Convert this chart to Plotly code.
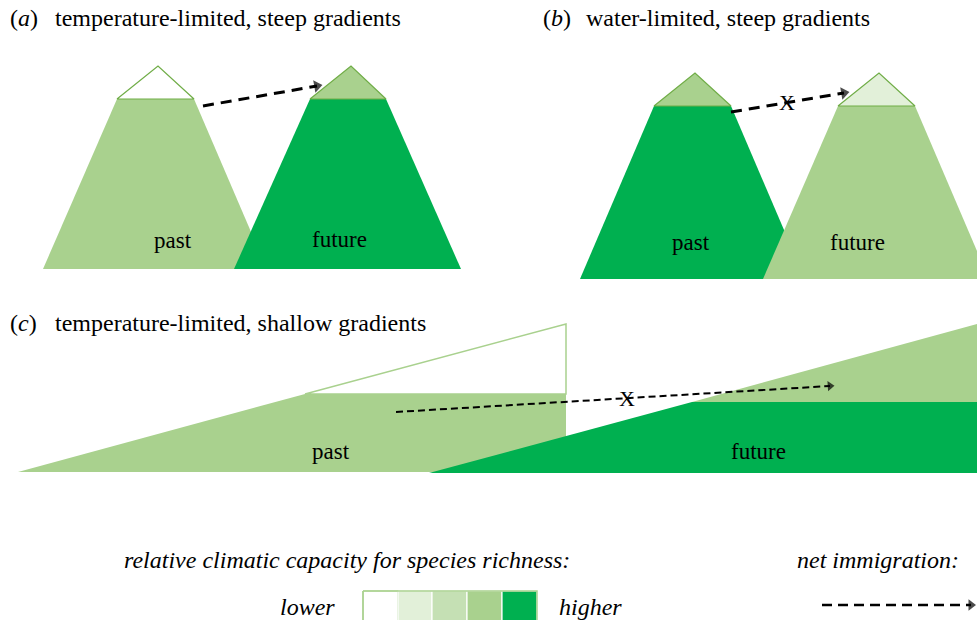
import plotly.graph_objects as go

W, H = 977, 620

# colour levels (relative climatic capacity)
LEVELS = ["#FFFFFF", "#E2F0D9", "#C5E0B4", "#A9D18E", "#00B050"]
OUTLINE = "#70AD47"

# ---- panel (a): polygon vertices (figure units, y downwards)
A_PAST_BODY_X = [43, 117, 194, 267]
A_PAST_BODY_Y = [269, 99, 99, 269]
A_PAST_TOP_X = [117, 158, 194]
A_PAST_TOP_Y = [99, 66, 99]
A_FUT_BODY_X = [234, 310, 386, 461]
A_FUT_BODY_Y = [269, 99, 99, 269]
A_FUT_TOP_X = [310, 351, 386]
A_FUT_TOP_Y = [99, 66, 99]
A_ARROW_X = [203, 317]
A_ARROW_Y = [106, 86]

# ---- panel (b)
B_PAST_BODY_X = [580, 654, 731, 805]
B_PAST_BODY_Y = [279, 106, 106, 279]
B_PAST_TOP_X = [654, 695, 731]
B_PAST_TOP_Y = [106, 73, 106]
B_FUT_BODY_X = [763, 838, 915, 989]
B_FUT_BODY_Y = [279, 106, 106, 279]
B_FUT_TOP_X = [838, 879, 915]
B_FUT_TOP_Y = [106, 73, 106]
B_ARROW_X = [731, 844]
B_ARROW_Y = [112, 93]

# ---- panel (c)
C_PAST_BODY_X = [18, 305, 566, 566]
C_PAST_BODY_Y = [472, 394, 394, 472]
C_PAST_TOP_X = [305, 566, 566]
C_PAST_TOP_Y = [394, 324, 394]
C_FUT_BODY_X = [429, 692, 977, 977]
C_FUT_BODY_Y = [473, 402, 402, 473]
C_FUT_TOP_X = [692, 977, 977]
C_FUT_TOP_Y = [402, 324, 402]
C_ARROW_X = [396, 830]
C_ARROW_Y = [412, 386]

# ---- legend
LEGEND_BOX_X = [363, 398, 432, 467, 502, 537]
LEGEND_BOX_Y = [591, 625]
LEGEND_ARROW_X = [822, 971]
LEGEND_ARROW_Y = [605, 605]

fig = go.Figure()


def poly(xs, ys, fill, line_color=None, line_w=0):
    fig.add_trace(go.Scatter(
        x=list(xs) + [xs[0]], y=list(ys) + [ys[0]],
        mode="lines", fill="toself", fillcolor=fill,
        line=dict(color=line_color or fill, width=line_w),
        hoverinfo="skip", showlegend=False))


def arrow(xs, ys, width, dash, head):
    fig.add_trace(go.Scatter(
        x=xs, y=ys, mode="lines",
        line=dict(color="black", width=width, dash=dash),
        hoverinfo="skip", showlegend=False))
    fig.add_trace(go.Scatter(
        x=xs, y=ys, mode="markers",
        marker=dict(symbol="triangle-up", size=[0, head], color="black",
                    angleref="previous", line=dict(width=0)),
        hoverinfo="skip", showlegend=False))


# panel a
poly(A_PAST_BODY_X, A_PAST_BODY_Y, LEVELS[3])
poly(A_PAST_TOP_X, A_PAST_TOP_Y, LEVELS[0], OUTLINE, 1.2)
poly(A_FUT_BODY_X, A_FUT_BODY_Y, LEVELS[4])
poly(A_FUT_TOP_X, A_FUT_TOP_Y, LEVELS[3], OUTLINE, 1.2)
arrow(A_ARROW_X, A_ARROW_Y, 3, "11px,7px", 11)

# panel b
poly(B_PAST_BODY_X, B_PAST_BODY_Y, LEVELS[4])
poly(B_PAST_TOP_X, B_PAST_TOP_Y, LEVELS[3], OUTLINE, 1.2)
poly(B_FUT_BODY_X, B_FUT_BODY_Y, LEVELS[3])
poly(B_FUT_TOP_X, B_FUT_TOP_Y, LEVELS[1], OUTLINE, 1.2)
arrow(B_ARROW_X, B_ARROW_Y, 3, "11px,7px", 11)

# panel c
poly(C_PAST_BODY_X, C_PAST_BODY_Y, LEVELS[3])
poly(C_PAST_TOP_X, C_PAST_TOP_Y, LEVELS[0], LEVELS[3], 1.5)
poly(C_FUT_BODY_X, C_FUT_BODY_Y, LEVELS[4])
poly(C_FUT_TOP_X, C_FUT_TOP_Y, LEVELS[3])
arrow(C_ARROW_X, C_ARROW_Y, 2, "7px,4px", 9)

# legend colour boxes
for i, col in enumerate(LEVELS):
    x0, x1 = LEGEND_BOX_X[i], LEGEND_BOX_X[i + 1]
    y0, y1 = LEGEND_BOX_Y
    fig.add_trace(go.Scatter(
        x=[x0, x1, x1, x0, x0], y=[y0, y0, y1, y1, y0], mode="lines",
        fill="toself", fillcolor=col,
        line=dict(color=LEVELS[3] if i == 0 else "white", width=1.2),
        hoverinfo="skip", showlegend=False))
fig.add_trace(go.Scatter(
    x=[LEGEND_BOX_X[0], LEGEND_BOX_X[-1], LEGEND_BOX_X[-1], LEGEND_BOX_X[0], LEGEND_BOX_X[0]],
    y=[LEGEND_BOX_Y[0], LEGEND_BOX_Y[0], LEGEND_BOX_Y[1], LEGEND_BOX_Y[1], LEGEND_BOX_Y[0]],
    mode="lines", line=dict(color=LEVELS[3], width=1.5),
    hoverinfo="skip", showlegend=False))
arrow(LEGEND_ARROW_X, LEGEND_ARROW_Y, 2.5, "10px,6px", 10)

FONT = "Liberation Serif"


def txt(x, y, s, size=23, anchor="center", italic=False):
    if italic:
        s = "<i>" + s + "</i>"
    fig.add_annotation(x=x, y=y, text=s, showarrow=False, xanchor=anchor,
                       yanchor="middle", font=dict(family=FONT, size=size, color="black"))


# titles
TS = 24
txt(8, 18, "(<i>a</i>)", size=TS, anchor="left")
txt(53, 18, "temperature-limited, steep gradients", size=TS, anchor="left")
txt(541, 18, "(<i>b</i>)", size=TS, anchor="left")
txt(584, 18, "water-limited, steep gradients", size=TS, anchor="left")
txt(8, 323, "(<i>c</i>)", size=TS, anchor="left")
txt(53, 323, "temperature-limited, shallow gradients", size=TS, anchor="left")

# shape labels
txt(173, 240, "past")
txt(339, 239, "future")
txt(691, 242, "past")
txt(857, 242, "future")
txt(331, 451, "past")
txt(758, 451, "future")
txt(787, 102, "X", size=22)
txt(627, 398, "X", size=22)

# legend text
txt(347, 560, "relative climatic capacity for species richness:", size=24, italic=True)
txt(878, 560, "net immigration:", size=24, italic=True)
txt(337, 607, "lower", size=24, anchor="right", italic=True)
txt(557, 607, "higher", size=24, anchor="left", italic=True)

fig.update_layout(
    width=W, height=H, margin=dict(l=0, r=0, t=0, b=0),
    paper_bgcolor="white", plot_bgcolor="white",
    xaxis=dict(range=[0, W], visible=False, fixedrange=True),
    yaxis=dict(range=[H, 0], visible=False, fixedrange=True),
    showlegend=False,
)

fig.write_html("out.html", config={"displayModeBar": False},
               post_script="document.body.style.margin='0px';document.body.style.overflow='hidden';")
